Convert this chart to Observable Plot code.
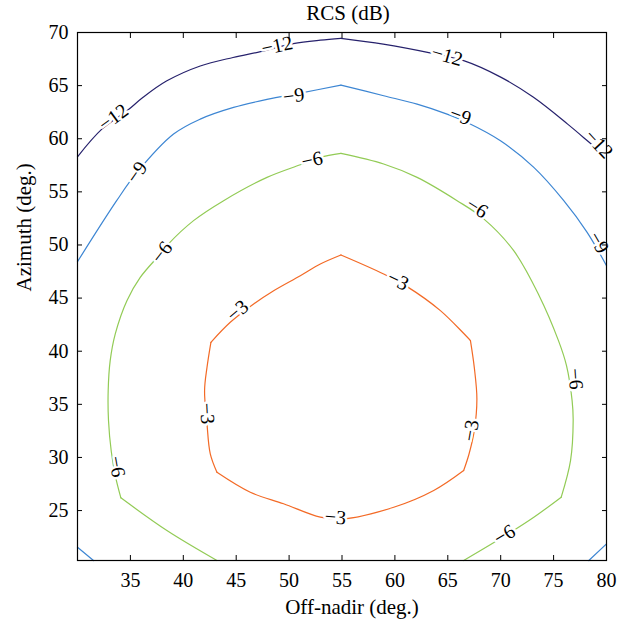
<!DOCTYPE html>
<html>
<head>
<meta charset="utf-8">
<script src="https://cdn.jsdelivr.net/npm/d3@7"></script>
<script src="https://cdn.jsdelivr.net/npm/@observablehq/plot@0.6"></script>
<style>
  html, body { margin: 0; padding: 0; background: #fff; }
</style>
</head>
<body>
<div id="chart"></div>
<script>
// Contour levels (dB) and their colours
const levels = [-12, -9, -6, -3];
const levelColors = ["#26216c", "#3d86d3", "#92cb55", "#f36a26"];

// Tick values
const xTicks = [35, 40, 45, 50, 55, 60, 65, 70, 75, 80];
const yTicks = [25, 30, 35, 40, 45, 50, 55, 60, 65, 70];

// Contour polylines: [off-nadir, azimuth], split at the visible kinks
const c12a = [[30.0,58.3],[32.3,60.9],[34.7,62.65],[36.2,63.9],[38.45,65.45],[41.6,66.85],[44.7,67.65],[47.3,68.2],[50.4,68.95],[52.95,69.28],[54.9,69.45]];
const c12b = [[54.9,69.45],[58.9,68.9],[63.2,68.1],[66.5,67.35],[70.0,65.8],[73.1,63.9],[76.3,61.4],[77.85,60.1],[79.43,58.71],[80.0,58.0]];
const c9a = [[30.0,48.43],[33.7,54.17],[35.6,56.8],[39.08,60.44],[41.6,61.85],[44.75,62.95],[47.9,63.7],[51.06,64.3],[54.9,65.05]];
const c9b = [[54.9,65.05],[58.94,64.05],[62.1,63.26],[64.93,62.32],[66.83,61.53],[69.98,59.81],[73.13,57.3],[75.96,54.17],[78.17,51.19],[80.0,48.05]];
const c9bl = [[30.0,21.55],[31.51,20.3]];
const c9br = [[78.33,20.3],[80.0,21.87]];
const c6a = [[43.18,20.3],[38.45,23.12],[34.1,26.2]];
const c6b = [[34.1,26.2],[33.57,28.3],[33.19,30.58],[32.93,33.47],[32.9,36.3],[33.09,39.11],[33.57,41.63],[34.67,44.76],[35.93,46.95],[37.82,49.15],[38.6,50.1],[40.97,52.29],[43.81,54.17],[47.91,56.36],[51.06,57.55],[52.95,58.24],[54.9,58.62]];
const c6c = [[54.9,58.62],[58.94,57.62],[62.1,56.36],[65.88,54.17],[68.37,52.48],[71.23,49.46],[73.6,45.3],[75.46,41.0],[76.22,38.65],[76.75,35.35],[76.85,33.47],[76.6,29.7],[75.72,26.26]];
const c6d = [[75.72,26.26],[73.13,24.37],[70.45,22.65],[66.5,20.3]];
const c3a = [[54.9,49.06],[58.94,47.27],[61.15,46.08],[64.3,43.82],[67.14,41.0]];
const c3b = [[67.14,41.0],[67.5,38.5],[67.75,35.5],[67.5,32.5],[67.0,30.3],[66.5,28.77]];
const c3c = [[66.5,28.77],[63.67,26.89],[59.89,25.31],[55.0,24.2],[52.95,24.38],[49.48,25.64],[46.33,26.73],[43.18,28.61]];
const c3d = [[43.18,28.61],[42.55,30.34],[42.24,33.16],[42.01,36.29],[42.24,38.48],[42.61,40.84]];
const c3e = [[42.61,40.84],[44.44,42.72],[46.65,44.45],[48.54,45.7],[51.06,47.11],[52.95,48.21],[54.9,49.06]];

// Contour labels: level, off-nadir, azimuth, angle along the line
const labelLevel = [-12, -12, -12, -12, -9, -9, -9, -9, -6, -6, -6, -6, -6, -6, -3, -3, -3, -3, -3];
const labelX =     [33.4, 48.86, 64.93, 79.27, 35.62, 50.43, 66.2, 79.27, 33.72, 37.98, 52.17, 67.77, 77.07, 70.36, 45.13, 60.3, 42.24, 67.18, 54.37];
const labelY =     [62.0, 68.75, 67.8, 59.5, 56.83, 64.04, 62.16, 50.24, 29.14, 49.3, 58.0, 53.48, 37.4, 22.72, 43.82, 46.64, 34.13, 32.53, 24.37];
const labelAngle = [-36, -12, 16, 47, -55, -8, 21, 60, 80, -52, -12, 32, 86, -31, -40, 26, 87, -80, 5];

const segments = [
  {level: -12, pts: c12a}, {level: -12, pts: c12b},
  {level: -9, pts: c9a}, {level: -9, pts: c9b}, {level: -9, pts: c9bl}, {level: -9, pts: c9br},
  {level: -6, pts: c6a}, {level: -6, pts: c6b}, {level: -6, pts: c6c}, {level: -6, pts: c6d},
  {level: -3, pts: c3a}, {level: -3, pts: c3b}, {level: -3, pts: c3c}, {level: -3, pts: c3d}, {level: -3, pts: c3e}
];
const lineRows = segments.flatMap((s, i) => s.pts.map(([x, y]) => ({seg: i, level: s.level, x, y})));
const labelRows = labelLevel.map((l, i) => ({level: l, x: labelX[i], y: labelY[i], a: labelAngle[i], t: "\u2212" + Math.abs(l)}));

const font = "'Liberation Serif', 'DejaVu Serif', serif";

const chart = Plot.plot({
  width: 629,
  height: 623,
  marginLeft: 77,
  marginRight: 23,
  marginTop: 32,
  marginBottom: 63,
  style: {fontFamily: font, fontSize: "20px", background: "white", color: "black"},
  x: {domain: [30, 80], axis: null},
  y: {domain: [20.3, 70], axis: null},
  color: {type: "ordinal", domain: levels, range: levelColors},
  marks: [
    Plot.line(lineRows, {x: "x", y: "y", z: "seg", stroke: "level", strokeWidth: 1.2, curve: "catmull-rom"}),
    Plot.text(labelRows, {x: "x", y: "y", text: "t", rotate: "a", fill: "black", stroke: "white", strokeWidth: 5, fontSize: 20, textAnchor: "middle", lineAnchor: "middle"}),
    Plot.axisX({ticks: xTicks, anchor: "bottom", tickSize: -5, tickPadding: 17, fontSize: 20, label: null}),
    Plot.axisX({ticks: xTicks, anchor: "top", tickSize: -5, tickFormat: () => "", label: null}),
    Plot.axisY({ticks: yTicks, anchor: "left", tickSize: -5, tickPadding: 14, fontSize: 20, label: null}),
    Plot.axisY({ticks: yTicks, anchor: "right", tickSize: -5, tickFormat: () => "", label: null}),
    Plot.frame({stroke: "black", strokeWidth: 1.2}),
    Plot.text(["RCS (dB)"], {frameAnchor: "top", dy: -19, dx: 6, fontSize: 21, lineAnchor: "middle"}),
    Plot.text(["Off-nadir (deg.)"], {frameAnchor: "bottom", dy: 47, dx: 10, fontSize: 21, lineAnchor: "middle"}),
    Plot.text(["Azimuth (deg.)"], {frameAnchor: "left", dx: -53, dy: -5, rotate: -90, fontSize: 21, lineAnchor: "middle"})
  ]
});
document.getElementById("chart").appendChild(chart);
</script>
</body>
</html>
